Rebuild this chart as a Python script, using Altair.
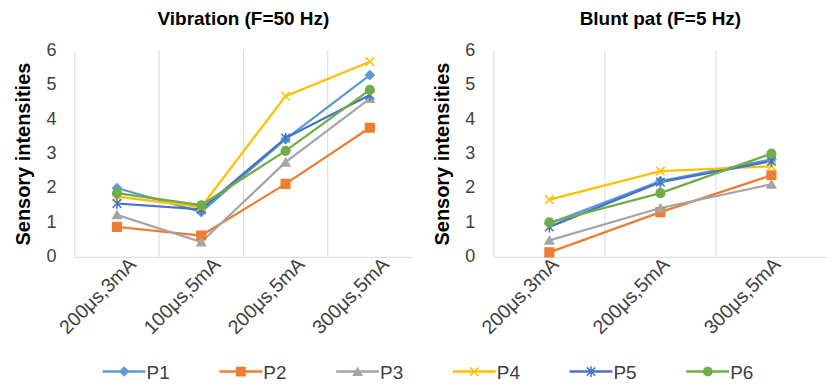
import altair as alt
import pandas as pd

series = ["P1", "P2", "P3", "P4", "P5", "P6"]
colors = ["#5B9BD5", "#ED7D31", "#A5A5A5", "#FFC000", "#4472C4", "#70AD47"]
shapes = ["diamond", "square", "triangle-up",
          "M-1,-1L1,1M-1,1L1,-1",
          "M-1,-1L1,1M-1,1L1,-1M0,-1.3L0,1.3",
          "circle"]

vib_title = "Vibration (F=50 Hz)"
vib_categories = ["200μs,3mA", "100μs,5mA", "200μs,5mA", "300μs,5mA"]
vib_P1 = [2.00, 1.30, 3.42, 5.28]
vib_P2 = [0.87, 0.62, 2.12, 3.75]
vib_P3 = [1.22, 0.43, 2.75, 4.60]
vib_P4 = [1.75, 1.45, 4.67, 5.67]
vib_P5 = [1.55, 1.38, 3.45, 4.70]
vib_P6 = [1.85, 1.50, 3.08, 4.85]

pat_title = "Blunt pat (F=5 Hz)"
pat_categories = ["200μs,3mA", "200μs,5mA", "300μs,5mA"]
pat_P1 = [0.97, 2.20, 2.83]
pat_P2 = [0.13, 1.30, 2.37]
pat_P3 = [0.48, 1.42, 2.11]
pat_P4 = [1.66, 2.49, 2.63]
pat_P5 = [0.87, 2.17, 2.78]
pat_P6 = [1.00, 1.85, 3.00]

y_ticks = [0, 1, 2, 3, 4, 5, 6]
y_title = "Sensory intensities"

FONT = "Liberation Sans"
LABEL_COLOR = "#404040"


def long_df(cats, vals):
    rows = []
    for s, v in zip(series, vals):
        for c, y in zip(cats, v):
            rows.append({"cat": c, "series": s, "value": y})
    return pd.DataFrame(rows)


color_scale = alt.Scale(domain=series, range=colors)
shape_scale = alt.Scale(domain=series, range=shapes)


def panel(cats, vals, title, w, h, label_offset):
    df = long_df(cats, vals)
    xs = alt.Scale(domain=cats, paddingInner=0, paddingOuter=0)
    ys = alt.Scale(domain=[0, 6])
    xaxis = alt.Axis(title=None, labelAngle=-45, labelAlign="right",
                     labelBaseline="middle", labelFont=FONT, labelFontSize=19.5,
                     labelColor=LABEL_COLOR, labelPadding=4,
                     labelOffset=label_offset,
                     ticks=False, domainColor="#d9d9d9", domainWidth=1,
                     grid=False)
    yaxis = alt.Axis(title=y_title, values=y_ticks, format="d", labelFont=FONT,
                     labelFontSize=18, labelColor=LABEL_COLOR, labelPadding=4,
                     offset=15, ticks=False, domain=False, grid=False,
                     titleFont=FONT, titleFontSize=20, titleFontWeight="bold",
                     titleColor="#000000", titlePadding=12)
    grid = alt.Chart(pd.DataFrame({"cat": cats})).mark_rule(
        color="#d9d9d9", strokeWidth=1
    ).encode(
        x=alt.X("cat:N", scale=xs, sort=cats, bandPosition=0, axis=xaxis),
    )
    base = alt.Chart(df).encode(
        x=alt.X("cat:N", scale=xs, sort=cats, axis=xaxis),
        y=alt.Y("value:Q", scale=ys, axis=yaxis),
        color=alt.Color("series:N", scale=color_scale, legend=None),
    )
    lines = base.mark_line(strokeWidth=2.25).encode(detail="series:N")
    pts = base.mark_point(filled=True, opacity=1, size=75, strokeWidth=1.5).encode(
        shape=alt.Shape("series:N", scale=shape_scale, legend=None),
        stroke=alt.Stroke("series:N", scale=color_scale, legend=None),
    )
    return alt.layer(grid, lines, pts).properties(
        width=w, height=h,
        title=alt.TitleParams(title, font=FONT, fontSize=19, fontWeight="bold",
                              color="#000000", offset=12),
    )


left = panel(vib_categories, [vib_P1, vib_P2, vib_P3, vib_P4, vib_P5, vib_P6],
             vib_title, 338, 207, 16)
right = panel(pat_categories, [pat_P1, pat_P2, pat_P3, pat_P4, pat_P5, pat_P6],
              pat_title, 334, 207, 6)

# custom legend (line + marker + label); its origin sits under the left plot
leg_df = pd.DataFrame({"series": series, "idx": list(range(len(series)))})
LEG_W = 700
lx = alt.Scale(domain=[-0.239, LEG_W / 117 - 0.239])
leg_base = alt.Chart(leg_df).transform_calculate(
    x0="datum.idx", x1="datum.idx + 0.367", xm="datum.idx + 0.184",
    xt="datum.idx + 0.376"
)
leg_line = leg_base.mark_rule(strokeWidth=2.5).encode(
    x=alt.X("x0:Q", scale=lx, axis=None), x2="x1:Q", y=alt.value(10),
    color=alt.Color("series:N", scale=color_scale, legend=None),
)
leg_pt = leg_base.mark_point(filled=True, opacity=1, size=70, strokeWidth=1.5).encode(
    x=alt.X("xm:Q", scale=lx, axis=None), y=alt.value(10),
    color=alt.Color("series:N", scale=color_scale, legend=None),
    stroke=alt.Stroke("series:N", scale=color_scale, legend=None),
    shape=alt.Shape("series:N", scale=shape_scale, legend=None),
)
leg_txt = leg_base.mark_text(align="left", baseline="middle", font=FONT,
                             fontSize=19, color=LABEL_COLOR).encode(
    x=alt.X("xt:Q", scale=lx, axis=None), y=alt.value(11), text="series:N",
)
legend = alt.layer(leg_line, leg_pt, leg_txt).properties(width=LEG_W, height=20)

chart = alt.vconcat(
    alt.hconcat(left, right, spacing=20),
    legend,
    spacing=24,
).properties(
    padding={"left": 13, "top": 10, "right": 0, "bottom": 0}
).configure_view(strokeWidth=0)

chart.save("out.html", embed_options={"renderer": "svg", "actions": False})
